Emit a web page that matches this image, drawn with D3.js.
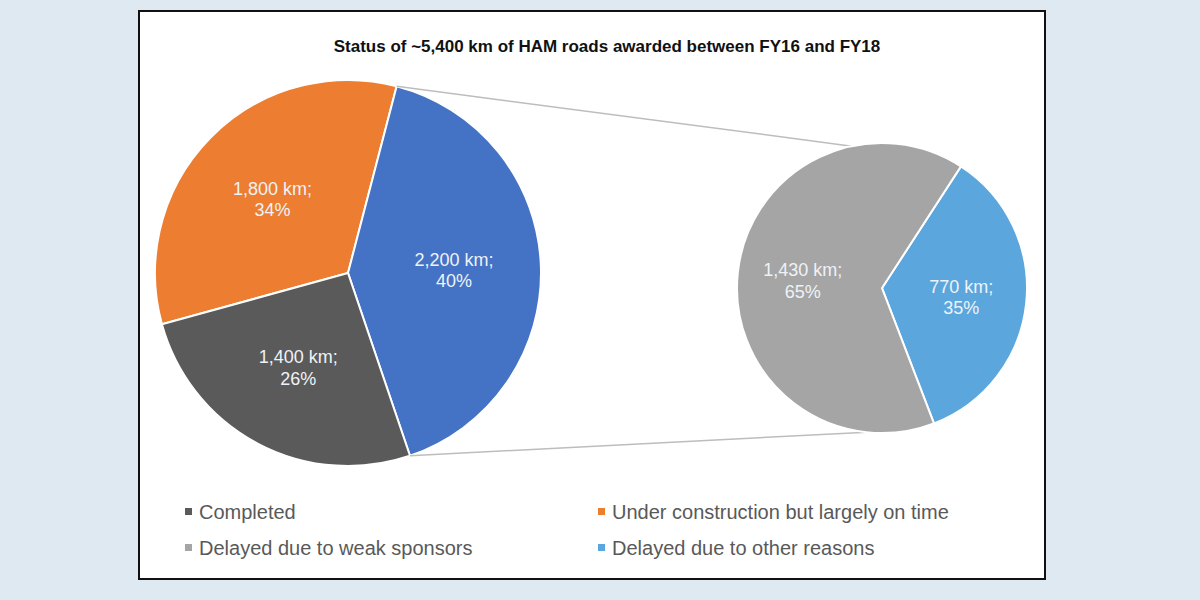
<!DOCTYPE html>
<html><head><meta charset="utf-8">
<script src="https://cdn.jsdelivr.net/npm/d3@7"></script>
<style>body{margin:0;background:#dfe9f2;font-family:"Liberation Sans",Arial,sans-serif}</style>
</head><body><svg id="chart" width="1200" height="600"></svg>
<script>
// data
const mainCats = ["Under construction but largely on time", "Delayed", "Completed"];
const mainKm = [1800, 2200, 1400];
const mainPct = [34, 40, 26];
const subCats = ["Delayed due to other reasons", "Delayed due to weak sponsors"];
const subKm = [770, 1430];
const subPct = [35, 65];
const legendItems = ["Completed", "Under construction but largely on time", "Delayed due to weak sponsors", "Delayed due to other reasons"];

const color = d3.scaleOrdinal()
  .domain(["Completed", "Under construction but largely on time", "Delayed", "Delayed due to weak sponsors", "Delayed due to other reasons"])
  .range(["#5a5a5a", "#ed7d31", "#4472c4", "#a5a5a5", "#5ca6de"]);

const svg = d3.select("#chart");
svg.append("rect").attr("x", 139).attr("y", 11).attr("width", 906).attr("height", 568)
  .attr("fill", "#fff").attr("stroke", "#111").attr("stroke-width", 2);

svg.append("text").attr("x", 607).attr("y", 52).attr("text-anchor", "middle")
  .attr("font-size", 17).attr("font-weight", "bold").attr("fill", "#111")
  .text("Status of ~5,400 km of HAM roads awarded between FY16 and FY18");

const toRad = d => d * Math.PI / 180;

function drawPie(cx, cy, r, cats, km, pct, startDeg) {
  const data = cats.map((c, i) => ({c, km: km[i], pct: pct[i]}));
  const pie = d3.pie().sort(null).value(d => d.km)
    .startAngle(toRad(startDeg)).endAngle(toRad(startDeg + 360));
  const arc = d3.arc().innerRadius(0).outerRadius(r);
  const labelArc = d3.arc().innerRadius(r * 0.55).outerRadius(r * 0.55);
  const g = svg.append("g").attr("transform", `translate(${cx},${cy})`);
  const arcs = pie(data);
  g.selectAll("path").data(arcs).join("path")
    .attr("d", arc).attr("fill", d => color(d.data.c))
    .attr("stroke", "#fff").attr("stroke-width", 2);
  const t = g.selectAll("text").data(arcs).join("text")
    .attr("transform", d => `translate(${labelArc.centroid(d)})`)
    .attr("text-anchor", "middle").attr("font-size", 18).attr("fill", "#eef2f7");
  t.append("tspan").attr("x", 0).attr("dy", "-0.2em").text(d => d3.format(",")(d.data.km) + " km;");
  t.append("tspan").attr("x", 0).attr("dy", "1.2em").text(d => d.data.pct + "%");
  return arcs;
}

// connector lines between the pies
const L = {cx: 348, cy: 273, r: 193}, R = {cx: 882, cy: 288, r: 145};
const pt = (p, deg) => [p.cx + p.r * Math.sin(toRad(deg)), p.cy - p.r * Math.cos(toRad(deg))];
const leftArcs = drawPie(L.cx, L.cy, L.r, mainCats, mainKm, mainPct, 17 - 0.34 * 360);
const blue = leftArcs[1];
const a0 = blue.startAngle * 180 / Math.PI, a1 = blue.endAngle * 180 / Math.PI;
[[pt(L, a0), pt(R, -12)], [pt(L, a1), pt(R, 186)]].forEach(([p, q]) => {
  svg.append("line").attr("x1", p[0]).attr("y1", p[1]).attr("x2", q[0]).attr("y2", q[1])
    .attr("stroke", "#bdbdbd").attr("stroke-width", 1.5);
});
drawPie(R.cx, R.cy, R.r, subCats, subKm, subPct, 33);

// legend
const legX = [190, 603], legY = [512, 548];
legendItems.forEach((d, i) => {
  const x = legX[i % 2], y = legY[Math.floor(i / 2)];
  svg.append("rect").attr("x", x - 5).attr("y", y - 4).attr("width", 7).attr("height", 7).attr("fill", color(d));
  svg.append("text").attr("x", x + 9).attr("y", y + 7).attr("font-size", 20).attr("fill", "#595959").text(d);
});
</script></body></html>
